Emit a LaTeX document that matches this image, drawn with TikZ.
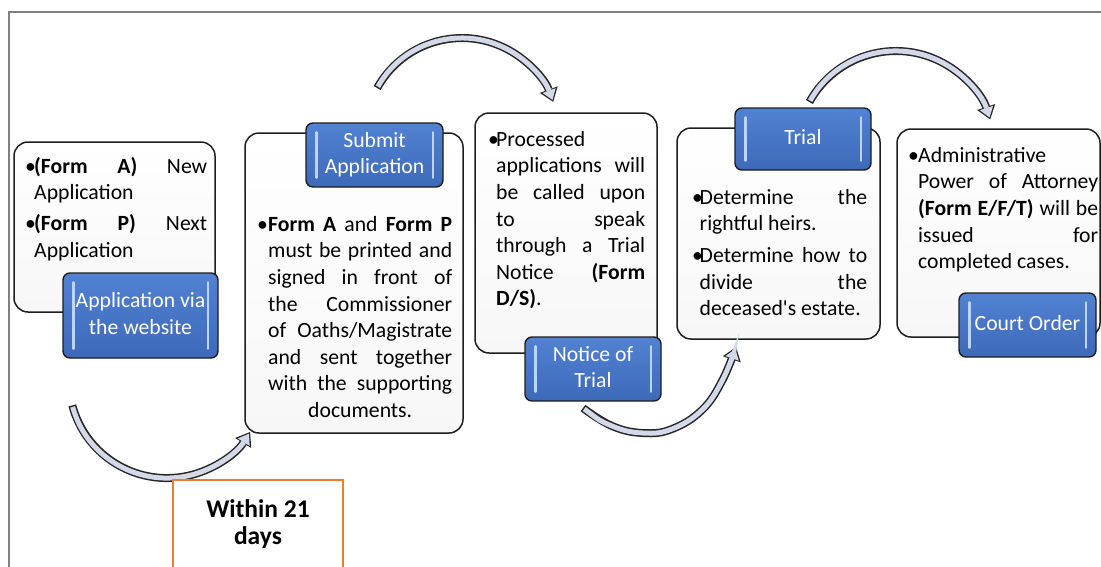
\documentclass[tikz,border=0pt]{standalone}
\usepackage{fontspec}
\setmainfont{Carlito}
\usetikzlibrary{arrows.meta,calc}
\definecolor{framegray}{HTML}{808080}
\definecolor{boxline}{HTML}{1E1E1E}
\definecolor{boxbot}{HTML}{F7F7F7}
\definecolor{lbltop}{HTML}{5282D3}
\definecolor{lblbot}{HTML}{3D69B8}
\definecolor{bevelc}{HTML}{BCD5F5}
\definecolor{arrfill}{HTML}{D3D9E8}
\definecolor{arrline}{HTML}{262626}
\definecolor{orangec}{HTML}{ED7D31}
\newcommand\tline[1]{\hbox to \hsize{\strut #1}}
\newcommand\tblock[2]{\vtop{\hsize=#1pt\relax #2}}
\newcommand\bulx[1]{\hbox to #1pt{•\hss}}
\newcommand\indx[1]{\hskip #1pt\relax}
\newcommand\bevels[1]{%
  \draw[bevel] ($(#1.north west)+(11,10)$) -- ($(#1.south west)+(11,-10)$);
  \draw[bevel] ($(#1.north east)+(-11,10)$) -- ($(#1.south east)+(-11,-10)$);}
\newcommand\blockarrow[1]{\draw[arrout] #1; \draw[arrin] #1;}
\begin{document}
\begin{tikzpicture}[x=1pt,y=-1pt,
  frame/.style={draw=framegray, line width=1.3pt},
  box/.style={draw=boxline, line width=1.5pt, rounded corners=14pt, top color=white, bottom color=boxbot, inner sep=0pt},
  lbl/.style={draw=boxline, line width=1.4pt, rounded corners=7pt, top color=lbltop, bottom color=lblbot, text=white, align=center, inner sep=0pt, font=\fontsize{21.7}{26.6}\selectfont},
  bevel/.style={draw=bevelc, line width=2.4pt, line cap=round},
  txt/.style={anchor=north west, inner sep=0pt, text=black, font=\fontsize{21.7}{26.6}\selectfont},
  arrout/.style={draw=arrline, line width=8pt, -{Triangle[length=13pt,width=19pt,line width=0pt]}},
  arrin/.style={draw=arrfill, line width=5pt, shorten >=2pt, shorten <=1.5pt, -{Triangle[length=10pt,width=14pt,line width=0pt]}},
  orangebox/.style={draw=orangec, line width=2pt, fill=white, inner sep=0pt, align=center, font=\bfseries\fontsize{25.5}{27}\selectfont}]
\useasboundingbox (0,0) rectangle (1101,566);
\clip (0,0) rectangle (1101,566);
% frame
\draw[frame] (9,570) -- (9,12) -- (1105,12);
% white boxes
\node[box, minimum width=201pt, minimum height=170pt] (b1) at (114.5,227) {};
\node[box, minimum width=218pt, minimum height=300pt] (b2) at (354,283) {};
\node[box, minimum width=182pt, minimum height=240pt] (b3) at (566,233) {};
\node[box, minimum width=203pt, minimum height=211pt] (b4) at (778.5,233.5) {};
\node[box, minimum width=203pt, minimum height=208pt] (b5) at (998.5,233) {};
% labels
\node[lbl, minimum width=155pt, minimum height=85pt] (l1) at (140.5,315.5) {\strut Application via\\\strut the website};
\node[lbl, minimum width=137pt, minimum height=64pt] (l2) at (374.5,155) {\strut Submit\\\strut Application};
\node[lbl, minimum width=136pt, minimum height=64pt] (l3) at (593,369) {\strut Notice of\\\strut Trial};
\node[lbl, minimum width=136pt, minimum height=62pt] (l4) at (803,139) {\strut Trial};
\node[lbl, minimum width=137pt, minimum height=64pt] (l5) at (1027.5,325) {\strut Court Order};
\bevels{l1}\bevels{l2}\bevels{l3}\bevels{l4}\bevels{l5}
% texts
\node[txt] (t1) at (25,154.4) {\tblock{182}{%
\tline{\bulx{9}\textbf{(Form}\hfill\textbf{A)}\hfill New}%
\tline{\indx{9}Application\hfill}%
\vskip4.5pt
\tline{\bulx{9}\textbf{(Form}\hfill\textbf{P)}\hfill Next}%
\tline{\indx{9}Application\hfill}}};
\node[txt] (t2) at (257,212.4) {\tblock{195}{%
\tline{\bulx{11}\textbf{Form}\hfill\textbf{A}\hfill and\hfill\textbf{Form}\hfill\textbf{P}}%
\tline{\indx{11}must\hfill be\hfill printed\hfill and}%
\tline{\indx{11}signed\hfill in\hfill front\hfill of}%
\tline{\indx{11}the\hfill Commissioner}%
\tline{\indx{11}of\hfill Oaths/Magistrate}%
\tline{\indx{11}and\hfill sent\hfill together}%
\tline{\indx{11}with\hfill the\hfill supporting}%
\tline{\indx{11}\hfill documents.\hfill}}};
\node[txt] (t3) at (488,127.4) {\tblock{157}{%
\tline{\bulx{8}Processed\hfill}%
\tline{\indx{8}applications\hfill will}%
\tline{\indx{8}be\hfill called\hfill upon}%
\tline{\indx{8}to\hfill speak}%
\tline{\indx{8}through\hfill a\hfill Trial}%
\tline{\indx{8}Notice\hfill\textbf{(Form}}%
\tline{\indx{8}\textbf{D/S)}.\hfill}}};
\node[txt] (t4) at (692,185.4) {\tblock{175}{%
\tline{\bulx{7.5}Determine\hfill the}%
\tline{\indx{7.5}rightful heirs.\hfill}%
\vskip5pt
\tline{\bulx{7.5}Determine\hfill how\hfill to}%
\tline{\indx{7.5}divide\hfill the}%
\tline{\indx{7.5}deceased\textquotesingle s estate.\hfill}}};
\node[txt] (t5) at (908,143.4) {\tblock{190}{%
\tline{\bulx{10}Administrative\hfill}%
\tline{\indx{10}Power\hfill of\hfill Attorney}%
\tline{\indx{10}\textbf{(Form}\hfill\textbf{E/F/T)}\hfill will\hfill be}%
\tline{\indx{10}issued\hfill for}%
\tline{\indx{10}completed cases.\hfill}}};
% curved block arrows
\coordinate (a1s) at (72.3,405.4);
\coordinate (a2s) at (377.2,88.0);
\coordinate (a3s) at (583,408);
\coordinate (a4s) at (809.4,102);
\blockarrow{(a1s) arc[start angle=165, end angle=32, radius=98]}
\blockarrow{(a2s) arc[start angle=209, end angle=340, radius=97]}
\blockarrow{plot[smooth, tension=0.7] coordinates {(a3s) (612,426) (643,433) (672,429) (702,410) (722,381) (736,347)}}
\blockarrow{(a4s) arc[start angle=209, end angle=342, radius=99]}
% orange box
\node[orangebox, minimum width=170pt, minimum height=92pt] (ob) at (258,526) {\strut Within 21\\\strut days};
\end{tikzpicture}
\end{document}
